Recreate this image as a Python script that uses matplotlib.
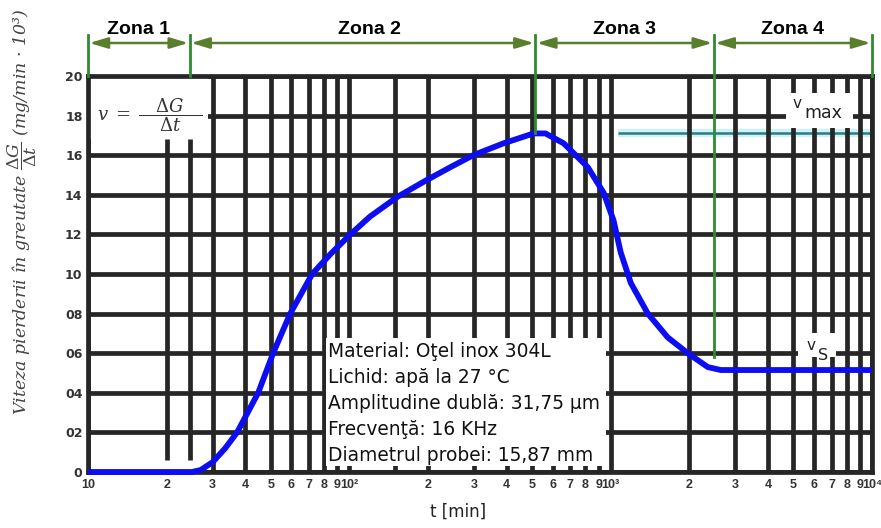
import matplotlib
matplotlib.use("Agg")
import matplotlib.pyplot as plt
from matplotlib.patches import Rectangle
from matplotlib.transforms import blended_transform_factory
from matplotlib.ticker import FixedLocator, FixedFormatter, NullLocator

# ---------------------------------------------------------------- data
# cavitation erosion: mass-loss rate vs. exposure time
time_min = [10, 25, 27, 30, 33.5, 37.2, 44.8, 51.1, 59.4, 72.1, 84.6, 100.9,
            120, 153, 195, 244, 298, 389, 507, 563, 661, 817, 940,
            1026, 1092, 1194, 1387, 1653, 1972, 2353, 2638, 10000]
loss_rate = [0, 0, 0.01, 0.05, 0.12, 0.2, 0.4, 0.6, 0.8, 1.0, 1.1, 1.2,
             1.29, 1.39, 1.47, 1.54, 1.6, 1.66, 1.71, 1.71, 1.66, 1.54, 1.41,
             1.27, 1.11, 0.955, 0.8, 0.68, 0.6, 0.53, 0.515, 0.515]

zone_bounds = [10, 24.5, 515, 2480, 10000]
zone_names = ["Zona 1", "Zona 2", "Zona 3", "Zona 4"]

y_ticks = [0, 0.2, 0.4, 0.6, 0.8, 1.0, 1.2, 1.4, 1.6, 1.8, 2.0]
y_tick_labels = ["0", "02", "04", "06", "08", "10", "12", "14", "16", "18", "20"]

x_ticks = [10, 20, 30, 40, 50, 60, 70, 80, 90,
           100, 200, 300, 400, 500, 600, 700, 800, 900,
           1000, 2000, 3000, 4000, 5000, 6000, 7000, 8000, 9000, 10000]
x_tick_labels = ["10", "2", "3", "4", "5", "6", "7", "8", "9",
                 "10²", "2", "3", "4", "5", "6", "7", "8", "9",
                 "10³", "2", "3", "4", "5", "6", "7", "8", "9", "10⁴"]
extra_grid_x = [150]

info_lines = ["Material: Oţel inox 304L",
              "Lichid: apă la 27 °C",
              "Amplitudine dublă: 31,75 μm",
              "Frecvenţă: 16 KHz",
              "Diametrul probei: 15,87 mm"]

v_max = max(loss_rate)
v_s = loss_rate[-1]

# ---------------------------------------------------------------- style
W, H = 881, 528
GRID = "#262626"
GLW = 3.4
BLUE = "#0d0df2"
GREEN = "#2e8b2e"
OLIVE = "#5a7f2c"
TEAL = "#2f7a80"

plt.rcParams["mathtext.fontset"] = "dejavuserif"


def px(x, y):
    """pixel position (from top-left) -> figure fraction"""
    return x / W, 1 - y / H


fig = plt.figure(figsize=(W / 100, H / 100), dpi=100)
fig.patch.set_facecolor("white")
L, R, T, B = 88, 872, 76, 472
ax = fig.add_axes([L / W, 1 - B / H, (R - L) / W, (B - T) / H])
ax.set_xscale("log")
ax.set_xlim(10, 10000)
ax.set_ylim(0, 2.0)
ax.set_facecolor("white")

# ticks
ax.xaxis.set_major_locator(FixedLocator(x_ticks))
ax.xaxis.set_major_formatter(FixedFormatter(x_tick_labels))
ax.xaxis.set_minor_locator(NullLocator())
ax.yaxis.set_major_locator(FixedLocator(y_ticks))
ax.yaxis.set_major_formatter(FixedFormatter(y_tick_labels))
ax.tick_params(axis="both", length=0, labelcolor="#333333")
ax.tick_params(axis="x", pad=5, labelsize=9)
ax.tick_params(axis="y", pad=4, labelsize=9)
for lab in ax.get_xticklabels():
    lab.set_fontweight("bold")
    lab.set_family("Liberation Sans")
for lab in ax.get_yticklabels():
    lab.set_fontweight("bold")

for sp in ax.spines.values():
    sp.set_linewidth(GLW)
    sp.set_color(GRID)
    sp.set_zorder(3)

# grid of the log paper
for yv in y_ticks:
    ax.axhline(yv, color=GRID, lw=GLW, zorder=1)
for xv in x_ticks + extra_grid_x:
    if xv == 20:
        continue
    ax.axvline(xv, color=GRID, lw=GLW, zorder=1)
for xv in (20, zone_bounds[1]):
    ax.plot([xv, xv], [0.06, 1.68], color=GRID, lw=GLW, zorder=1,
            solid_capstyle="butt")

# white label areas cut into the grid
for (x0, y0, x1, y1) in [(10, 1.68, 28.8, 2.0),
                         (4677, 1.737, 8450, 1.914),
                         (5200, 0.58, 7280, 0.70),
                         (81.7, 0.03, 957, 0.677)]:
    ax.add_patch(Rectangle((x0, y0), x1 - x0, y1 - y0, facecolor="white",
                           edgecolor="none", zorder=2))

# v_max reference line (under the black grid)
ax.plot([1065, 10000], [v_max, v_max], color="#cdf3f7", lw=6, zorder=0.8,
        solid_capstyle="butt", clip_on=False)
ax.plot([1065, 10000], [v_max, v_max], color=TEAL, lw=1.8, zorder=0.9,
        solid_capstyle="butt", clip_on=False)

# rate curve
ax.plot(time_min, loss_rate, color=BLUE, lw=4.2, zorder=4, clip_on=False,
        solid_joinstyle="round", solid_capstyle="butt")

# zone markers above the plot
trans = blended_transform_factory(ax.transData, ax.transAxes)
arrow_y = (B - 43) / (B - T)
top_y = (B - 35) / (B - T)
label_y = (B - 34) / (B - T)
ends = {zone_bounds[2]: v_max / 2.0, zone_bounds[3]: 0.58 / 2.0}
for xb in zone_bounds:
    y_low = ends.get(xb, 1.0)
    ax.plot([xb, xb], [y_low, top_y], color=GREEN, lw=2.0, transform=trans,
            clip_on=False, zorder=5)
for i, name in enumerate(zone_names):
    a, b = zone_bounds[i], zone_bounds[i + 1]
    ax.annotate("", xy=(a, arrow_y), xytext=(b, arrow_y), xycoords=trans,
                textcoords=trans,
                arrowprops=dict(arrowstyle="<|-|>,head_length=1.0,head_width=0.3",
                                color=OLIVE, lw=1.8, shrinkA=1, shrinkB=1,
                                mutation_scale=11))
    xc = (a * b) ** 0.5 * (1.06 if i == 1 else 1.0)
    ax.text(xc, label_y, name, transform=trans, ha="center",
            va="baseline", fontsize=14, fontweight="bold",
            family="Liberation Sans", color="black")

# formula
fig.text(*px(97, 115), r"$v\;=\;\dfrac{\quad\Delta G\quad}{\Delta t}$", fontsize=13,
         ha="left", va="center", color="#333333")

# test conditions
for i, line in enumerate(info_lines):
    fig.text(*px(328, 357 + 26 * i), line, fontsize=13.4, ha="left",
             va="baseline", family="DejaVu Sans", color="#111111")

# v_max / v_s labels
fig.text(*px(797, 103), "v", fontsize=11, ha="center", va="center", color="#222222")
fig.text(*px(823, 113), "max", fontsize=12.5, ha="center", va="center", color="#222222")
fig.text(*px(811, 345), "v", fontsize=11, ha="center", va="center", color="#222222")
fig.text(*px(823, 355), "S", fontsize=11.5, ha="center", va="center", color="#222222")

# axis titles
fig.text(*px(22, 212),
         r"Viteza pierderii în greutate $\dfrac{\Delta G}{\Delta t}$ (mg/min · 10³)",
         rotation=90, ha="center", va="center", fontsize=12.5,
         family="DejaVu Serif", style="italic", color="#444444")
fig.text(*px(458, 517), "t [min]", ha="center", va="baseline", fontsize=12,
         family="DejaVu Sans", color="#222222")

fig.savefig("out.png", dpi=100, facecolor="white")
